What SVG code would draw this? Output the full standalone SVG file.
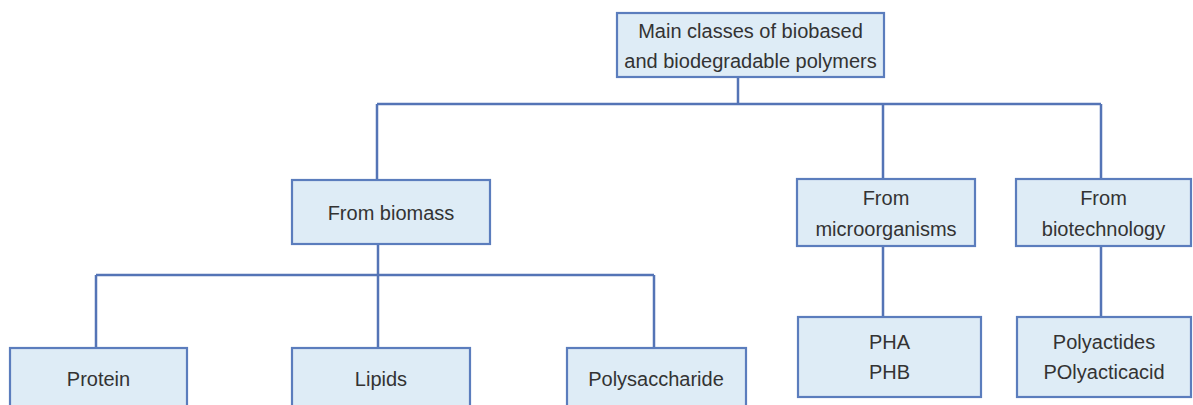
<svg xmlns="http://www.w3.org/2000/svg" width="1193" height="405" viewBox="0 0 1193 405">
<style>
.box{fill:#deecf6;stroke:#5b7dbd;stroke-width:2.2}
.t{font-family:"Liberation Sans",Arial,sans-serif;font-size:20px;fill:#333;text-anchor:middle}
.c{fill:none;stroke:#5474b6;stroke-width:2.5}
</style>
<rect width="1193" height="405" fill="#fff"/>
<g id="connectors">
<path class="c" d="M738,77V104M377,104H1101M377,104V180M883,104V179M1101,104V179"/>
<path class="c" d="M378,244V348M96,275H654M96,275V348M654,275V348"/>
<path class="c" d="M883,246V316M1101,246V316"/>
</g>
<g id="root"><rect class="box" x="617" y="13" width="267" height="64"/>
<text class="t" x="750.5" y="38">Main classes of biobased</text>
<text class="t" x="750.5" y="68">and biodegradable polymers</text></g>
<g id="biomass"><rect class="box" x="292" y="180" width="198" height="64"/>
<text class="t" x="391" y="220">From biomass</text></g>
<g id="micro"><rect class="box" x="797" y="179" width="178" height="67"/>
<text class="t" x="886" y="205">From</text>
<text class="t" x="886" y="236">microorganisms</text></g>
<g id="biotech"><rect class="box" x="1016" y="179" width="175" height="67"/>
<text class="t" x="1103.5" y="205">From</text>
<text class="t" x="1103.5" y="236">biotechnology</text></g>
<g id="protein"><rect class="box" x="10" y="348" width="177" height="70"/>
<text class="t" x="98.5" y="386">Protein</text></g>
<g id="lipids"><rect class="box" x="292" y="348" width="178" height="70"/>
<text class="t" x="381" y="386">Lipids</text></g>
<g id="polysaccharide"><rect class="box" x="567" y="348" width="179" height="70"/>
<text class="t" x="656" y="386">Polysaccharide</text></g>
<g id="pha"><rect class="box" x="798" y="317" width="183" height="80"/>
<text class="t" x="889.5" y="349">PHA</text>
<text class="t" x="889.5" y="379">PHB</text></g>
<g id="polyactides"><rect class="box" x="1017" y="317" width="174" height="80"/>
<text class="t" x="1104" y="349">Polyactides</text>
<text class="t" x="1104" y="379">POlyacticacid</text></g>
</svg>
